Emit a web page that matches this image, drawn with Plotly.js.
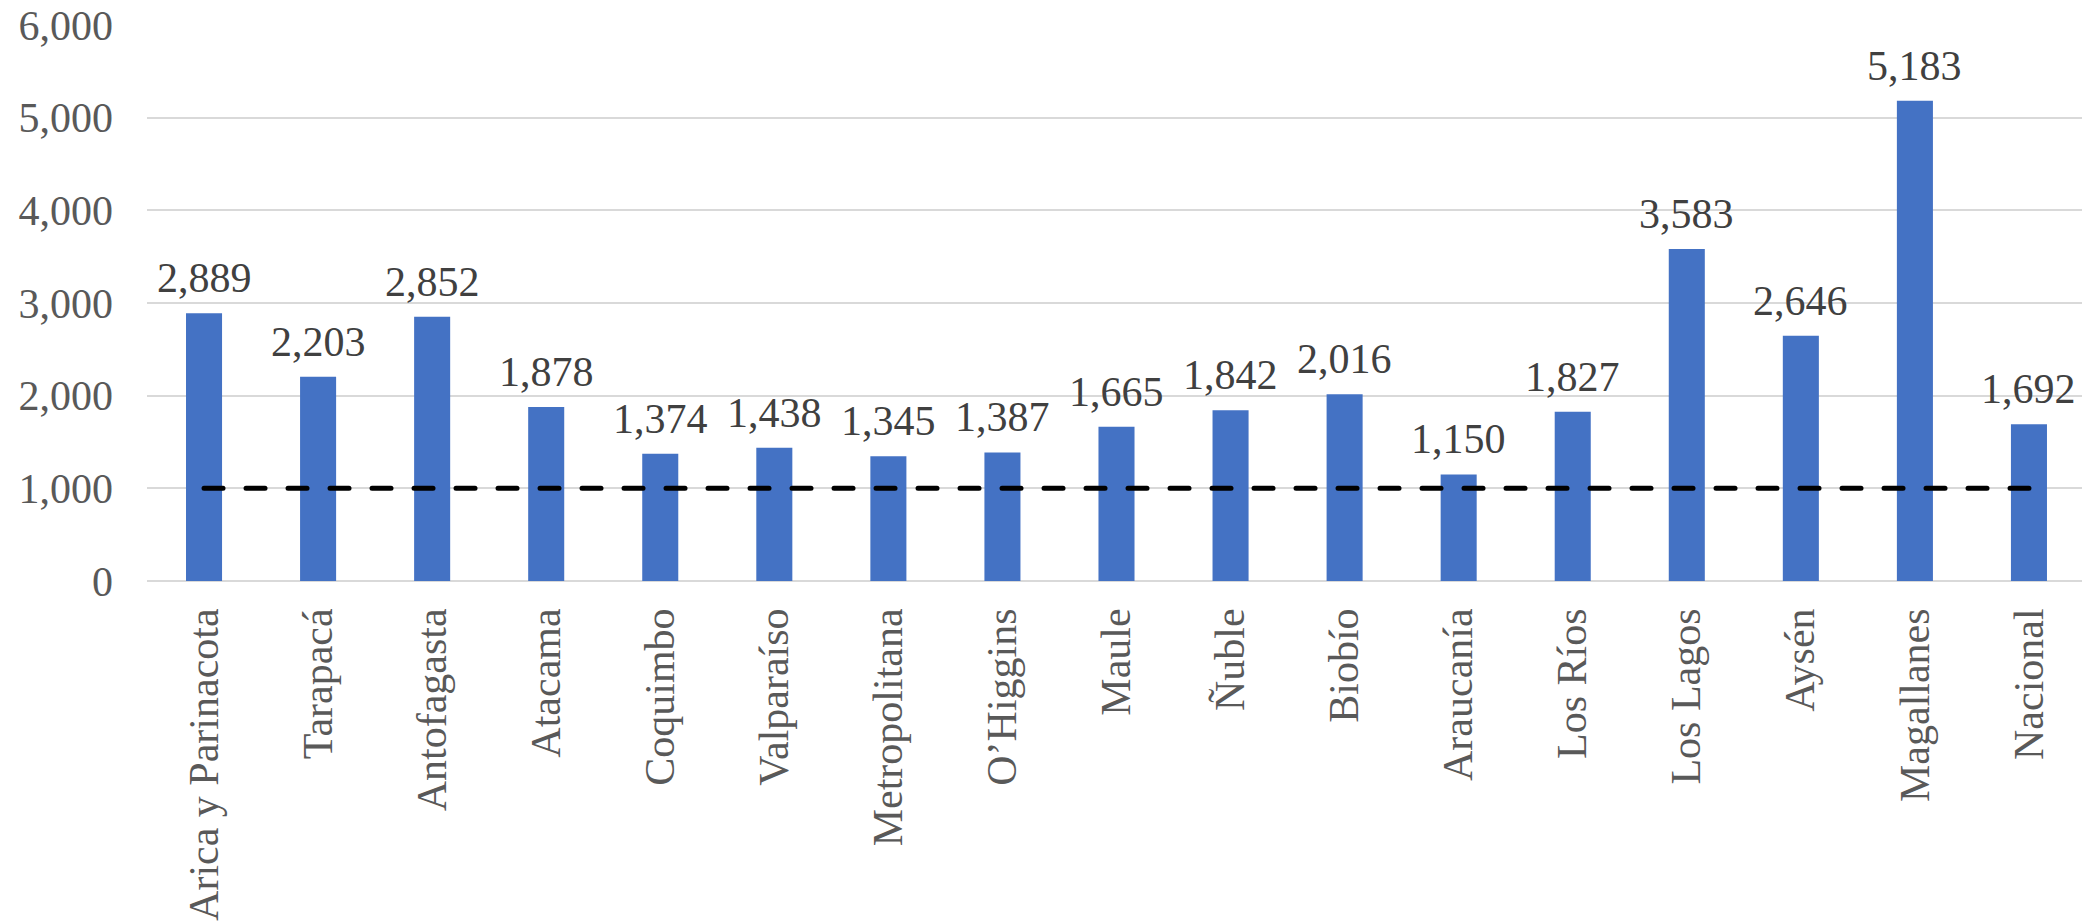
<!DOCTYPE html>
<html>
<head>
<meta charset="utf-8">
<script src="https://cdn.plot.ly/plotly-3.0.1.min.js"></script>
<style>
html,body{margin:0;padding:0;background:#fff;}
#chart{width:2082px;height:923px;}
#chart .scatterlayer path.js-line{stroke-linecap:round !important;}
</style>
</head>
<body>
<div id="chart"></div>
<script>
const regions = ["Arica y Parinacota","Tarapacá","Antofagasta","Atacama","Coquimbo","Valparaíso","Metropolitana","O’Higgins","Maule","Ñuble","Biobío","Araucanía","Los Ríos","Los Lagos","Aysén","Magallanes","Nacional"];
const values = [2889, 2203, 2852, 1878, 1374, 1438, 1345, 1387, 1665, 1842, 2016, 1150, 1827, 3583, 2646, 5183, 1692];
const threshold = [1000, 1000, 1000, 1000, 1000, 1000, 1000, 1000, 1000, 1000, 1000, 1000, 1000, 1000, 1000, 1000, 1000];
const yTicks = [0, 1000, 2000, 3000, 4000, 5000, 6000];

const FONT = "Liberation Serif, Times New Roman, serif";

const bars = {
  type: "bar",
  x: regions,
  y: values,
  marker: {color: "#4472C4"},
  hoverinfo: "x+y",
  showlegend: false
};
const line = {
  type: "scatter",
  mode: "lines",
  x: regions,
  y: threshold,
  line: {color: "#000000", width: 5, dash: "19px,23px"},
  hoverinfo: "skip",
  showlegend: false
};

const annotations = regions.map((r, i) => ({
  x: r,
  y: values[i],
  xref: "x",
  yref: "y",
  text: values[i].toLocaleString("en-US"),
  showarrow: false,
  yanchor: "bottom",
  xanchor: "center",
  yshift: 10,
  font: {family: FONT, size: 42, color: "#404040"}
}));

const layout = {
  width: 2082,
  height: 923,
  margin: {l: 147, r: 0, t: 25, b: 342, pad: 0},
  paper_bgcolor: "#ffffff",
  plot_bgcolor: "#ffffff",
  bargap: 0.684,
  font: {family: FONT, size: 42, color: "#595959"},
  xaxis: {
    type: "category",
    range: [-0.5, 16.465],
    tickangle: -90,
    showgrid: false,
    showline: false,
    zeroline: false,
    ticks: "",
    ticklabelstandoff: 18,
    tickfont: {family: FONT, size: 42, color: "#595959"},
    fixedrange: true
  },
  yaxis: {
    range: [0, 6000],
    tickvals: yTicks,
    tickformat: ",d",
    showgrid: true,
    gridcolor: "#d9d9d9",
    gridwidth: 2,
    zeroline: true,
    zerolinecolor: "#d9d9d9",
    zerolinewidth: 2,
    showline: false,
    ticks: "",
    ticklabelstandoff: 33,
    tickfont: {family: FONT, size: 42, color: "#595959"},
    fixedrange: true
  },
  annotations: annotations
};

Plotly.newPlot("chart", [bars, line], layout, {displayModeBar: false, staticPlot: true});
</script>
</body>
</html>
